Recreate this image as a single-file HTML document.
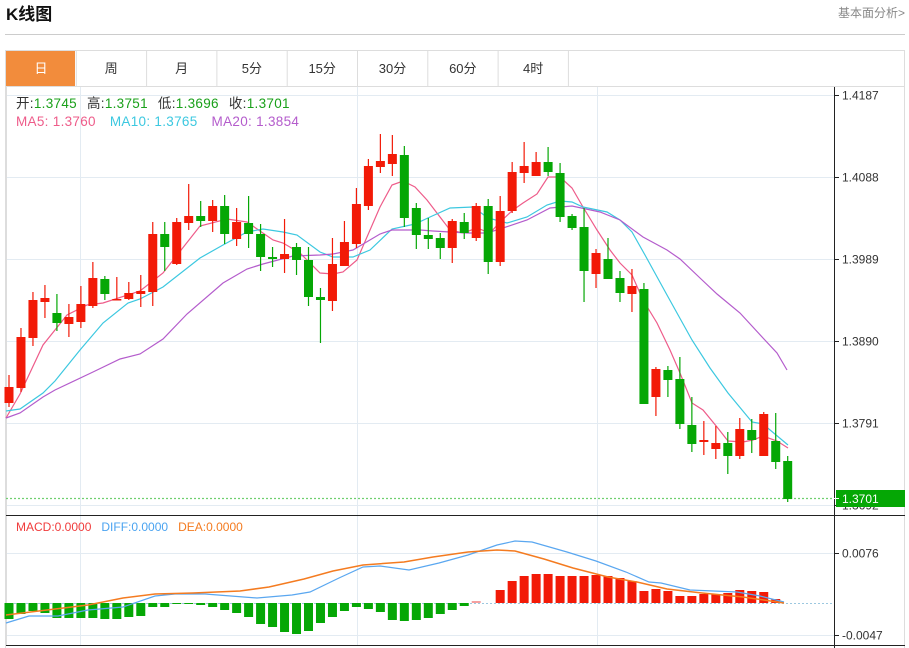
<!DOCTYPE html>
<html><head><meta charset="utf-8"><style>
html,body{margin:0;padding:0;background:#fff;width:909px;height:648px;overflow:hidden;font-family:"Liberation Sans","Noto Sans CJK SC",sans-serif}
</style></head><body>
<svg id="s" width="909" height="648" xmlns="http://www.w3.org/2000/svg" style="position:absolute;left:0;top:0">
<text x="6" y="20" font-size="17" font-weight="bold" fill="#111" font-family="Liberation Sans,Noto Sans CJK SC,sans-serif">K线图</text>
<text x="838" y="17" font-size="12" fill="#888" font-family="Liberation Sans,Noto Sans CJK SC,sans-serif">基本面分析&gt;</text>
<line x1="5" y1="34.5" x2="905" y2="34.5" stroke="#ccc"/>
<rect x="5.5" y="50.5" width="899" height="600" fill="none" stroke="#ddd"/>
<rect x="6" y="51" width="69" height="35" fill="#f28c3c"/>
<line x1="5" y1="86.5" x2="905" y2="86.5" stroke="#ddd"/>
<g id="tabs" font-size="13" fill="#333" text-anchor="middle" font-family="Liberation Sans,Noto Sans CJK SC,sans-serif"></g>
<g id="grid"></g>
<g id="ma"></g>
<g id="cd"></g>
<g id="macd"></g>
<g id="axis"></g>
<text x="16" y="108" font-size="13.5" letter-spacing="0.3" font-family="Liberation Sans,Noto Sans CJK SC,sans-serif"><tspan fill="#333">开:</tspan><tspan fill="#1aa01a">1.3745</tspan><tspan fill="#333" dx="10">高:</tspan><tspan fill="#1aa01a">1.3751</tspan><tspan fill="#333" dx="10">低:</tspan><tspan fill="#1aa01a">1.3696</tspan><tspan fill="#333" dx="10">收:</tspan><tspan fill="#1aa01a">1.3701</tspan></text>
<text x="16" y="126" font-size="13.5" letter-spacing="0.3" font-family="Liberation Sans,sans-serif"><tspan fill="#ee5c8a">MA5: 1.3760</tspan><tspan fill="#3cc8e0" dx="14">MA10: 1.3765</tspan><tspan fill="#b45ccc" dx="14">MA20: 1.3854</tspan></text>
<text x="16" y="531" font-size="12" font-family="Liberation Sans,sans-serif"><tspan fill="#f03c3c">MACD:0.0000</tspan><tspan fill="#4aa3f0" dx="10">DIFF:0.0000</tspan><tspan fill="#f47b20" dx="10">DEA:0.0000</tspan></text>
</svg>
<script>
var NS="http://www.w3.org/2000/svg";
function el(p,t,a,txt){var e=document.createElementNS(NS,t);for(var k in a)e.setAttribute(k,a[k]);if(txt)e.textContent=txt;document.getElementById(p).appendChild(e);return e;}
var tabs=["日","周","月","5分","15分","30分","60分","4时"];
for(var i=0;i<8;i++){var x0=6+i*70.3;el("tabs","text",{x:x0+35,y:73,fill:i==0?"#fff":"#333"},tabs[i]);el("tabs","line",{x1:x0+70.3,y1:51,x2:x0+70.3,y2:86,stroke:"#ddd"});}
[95,177,259,341,423,505].forEach(function(y){el("grid","line",{x1:6,y1:y+.5,x2:834,y2:y+.5,stroke:"#e3ebf2"});});
[553,635].forEach(function(y){el("grid","line",{x1:6,y1:y+.5,x2:834,y2:y+.5,stroke:"#e3ebf2"});});
[80.5,357.5,597.5].forEach(function(x){el("grid","line",{x1:x,y1:87,x2:x,y2:645,stroke:"#e3ebf2"});});
el("grid","line",{x1:6.5,y1:87,x2:6.5,y2:645,stroke:"#ddd"});
el("grid","line",{x1:6,y1:498.5,x2:834,y2:498.5,stroke:"#6fd06f","stroke-dasharray":"2,2","stroke-width":1.3});
el("grid","line",{x1:6,y1:603.5,x2:834,y2:603.5,stroke:"#9cc8e0","stroke-dasharray":"2,2"});
var C=[[1,387,403,375,407],[1,337,388,328,392],[1,300,338,292,346],[1,298,302,285,318],[0,313,323,294,331],[1,317,324,304,337],[1,304,322,286,328],[1,278,306,262,308],[0,279,294,276,300],[1,299,300,277,300],[1,293,299,282,300],[1,291,294,275,307],[1,234,292,222,306],[0,234,247,222,271],[1,222,264,218,265],[1,216,223,184,230],[0,216,221,201,227],[1,206,221,200,232],[0,206,234,195,244],[1,222,239,208,246],[0,223,234,196,248],[0,234,257,224,271],[0,257,259,247,267],[1,254,259,219,273],[0,247,260,243,275],[0,260,297,247,306],[0,297,300,288,343],[1,264,301,238,311],[1,242,266,221,249],[1,204,244,188,248],[1,166,206,159,210],[1,161,167,134,173],[1,154,164,135,176],[0,155,218,146,227],[0,208,235,203,249],[0,235,239,218,249],[0,238,248,233,259],[1,221,248,219,263],[0,222,233,213,239],[1,206,238,203,241],[0,206,262,199,274],[1,211,262,196,266],[1,172,211,162,213],[1,166,173,142,183],[1,162,176,152,176],[0,162,172,147,176],[0,173,217,163,222],[0,216,228,214,230],[0,227,271,208,302],[1,253,274,249,288],[0,259,279,238,279],[0,278,293,271,302],[1,286,294,269,312],[0,289,404,283,404],[1,369,397,367,416],[0,370,380,366,397],[0,379,424,357,429],[0,425,444,397,452],[1,440,442,421,455],[1,443,449,426,459],[0,443,456,432,474],[1,429,456,418,459],[0,430,440,419,453],[1,414,456,412,453],[0,441,462,413,469],[0,461,499,456,502]];
for(var i=0;i<C.length;i++){var c=C[i],x=9+i*11.98,col=c[0]?"#f21a07":"#05a705";
el("cd","line",{x1:x,y1:c[3],x2:x,y2:c[4],stroke:col,"stroke-width":1.2});
el("cd","rect",{x:x-4.5,y:c[1],width:9,height:Math.max(1.5,c[2]-c[1]),fill:col});}
function pl(g,pts,col,w){el(g,"polyline",{points:pts,fill:"none",stroke:col,"stroke-width":w||1.2});}
pl("ma","6,418 20,394 43,345 67,315 87,305 103,303 140,291 163,273 200,226 227,219 247,222 273,240 283,243 300,253 320,273 333,274 343,272 357,260 380,207 392,185 403,181 415,187 427,200 440,217 450,230 463,233 477,228 490,233 500,222 513,210 523,203 537,194 548,177 560,177 572,188 583,207 597,230 610,250 620,263 632,275 643,300 657,323 670,350 680,373 692,403 703,410 717,427 728,441 743,442 753,440 763,436 777,441 788,448","#ee5c8a");
pl("ma","6,411 20,409 43,393 55,381 80,350 103,323 128,303 140,299 163,287 200,258 223,245 247,232 263,229 283,232 297,235 320,252 333,257 353,257 370,250 392,229 415,224 430,217 450,208 473,207 488,218 507,223 527,217 547,205 560,201 572,202 583,207 607,212 620,220 632,232 645,255 667,295 692,340 710,368 728,393 752,422 763,424 788,445","#3cc8e0");
pl("ma","6,418 20,413 43,397 55,390 93,372 120,359 140,354 163,339 187,314 223,283 247,269 263,264 293,256 320,255 333,254 353,250 380,234 392,230 420,230 433,231 467,233 487,233 503,228 527,220 550,208 572,206 600,212 620,220 643,237 667,250 680,259 700,278 717,294 740,313 763,338 777,353 787,370","#b45ccc");
var N=[16,11,8,10,15,15,15,15,16,16,14,13,4,4,1,1,2,4,7,10,14,21,24,29,31,28,20,14,8,4,6,9,17,18,17,15,11,7,3,-0.8];
for(var i=0;i<N.length;i++){var x=9+i*11.98;if(N[i]>0)el("macd","rect",{x:x-4.5,y:603,width:9,height:N[i],fill:"#05a705"});else el("macd","rect",{x:x-4.5,y:601,width:9,height:2,fill:"#f5a0a0"});}
var P=[13,22,27,29,29,27,27,27,28,27,25,22,12,14,12,7,7,9,9,10,13,12,11,4];
for(var i=0;i<P.length;i++){var x=9+(41+i)*11.98;el("macd","rect",{x:x-4.5,y:603-P[i],width:9,height:P[i],fill:"#f21a07"});}
pl("macd","6,623 29,616 58,616 88,610 123,607 155,596 175,594 205,594 257,598 292,595 310,592 339,578 363,567 380,566 409,570 439,563 468,555 497,545 515,541 532,542 567,552 596,561 626,572 649,582 661,583 690,590 737,592 760,596 784,602","#5aa7f0");
pl("macd","6,615 47,610 88,605 123,598 155,594 193,593 240,591 269,587 304,579 333,571 363,565 404,562 433,557 468,552 497,550 515,551 544,559 573,568 608,577 637,582 667,589 702,593 743,597 784,603","#f47b20",1.5);
el("axis","line",{x1:834.5,y1:87,x2:834.5,y2:648,stroke:"#222"});
el("axis","line",{x1:6,y1:515.5,x2:905,y2:515.5,stroke:"#222"});
el("axis","line",{x1:6,y1:645.5,x2:905,y2:645.5,stroke:"#222"});
[[95,"1.4187"],[177,"1.4088"],[259,"1.3989"],[341,"1.3890"],[423,"1.3791"],[505,"1.3692"],[553,"0.0076"],[635,"-0.0047"]].forEach(function(t){
el("axis","line",{x1:834,y1:t[0]+.5,x2:839,y2:t[0]+.5,stroke:"#222"});
el("axis","text",{x:842,y:t[0]+4.5,"font-size":12,fill:"#333","font-family":"Liberation Sans,sans-serif"},t[1]);});
el("axis","rect",{x:836,y:490,width:69,height:17,fill:"#05a705"});
el("axis","line",{x1:834,y1:498.5,x2:839,y2:498.5,stroke:"#fff"});
el("axis","text",{x:842,y:503,"font-size":12,fill:"#fff","font-family":"Liberation Sans,sans-serif"},"1.3701");
</script>
</body></html>
